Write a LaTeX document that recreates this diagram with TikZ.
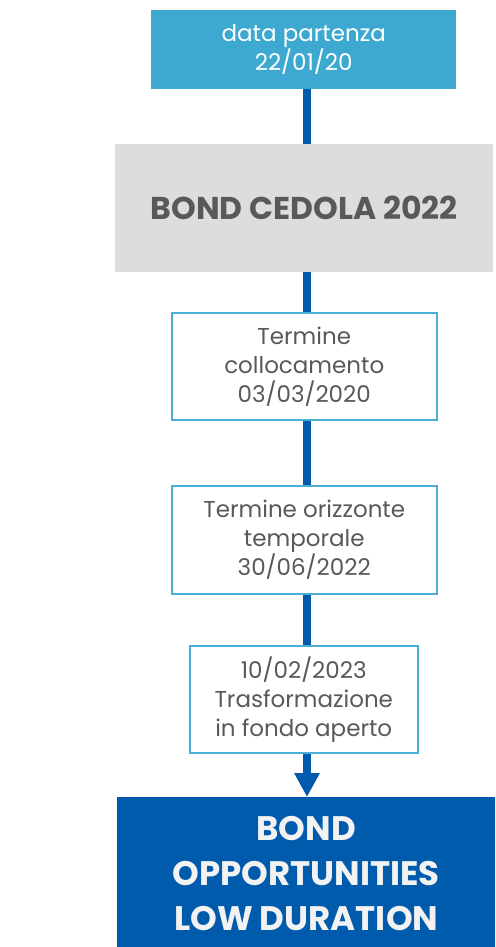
\documentclass[tikz,border=0pt]{standalone}
\usepackage{fontspec}
\setmainfont{Poppins}
\usetikzlibrary{arrows.meta}
\definecolor{topblue}{HTML}{3EA9D0}
\definecolor{framebl}{HTML}{4BAED5}
\definecolor{darkbl}{HTML}{005BAC}
\definecolor{lgray}{HTML}{DDDDDD}
\definecolor{tgray}{HTML}{595959}
\definecolor{wtxt}{HTML}{F2F2F2}
\tikzset{
  x=1pt,y=-1pt,
  boxbase/.style={inner sep=0pt, align=center, anchor=north west},
  datebox/.style={boxbase, draw=framebl, line width=1.5pt, fill=white, text=tgray, font=\fontsize{23}{29}\selectfont},
  link/.style={draw=darkbl, line width=8pt},
}
\begin{document}
\begin{tikzpicture}
\useasboundingbox (0,0) rectangle (495,947);
\node[boxbase, fill=topblue, minimum width=305pt, minimum height=79pt, text=white, font=\fontsize{23}{27}\selectfont] (start) at (151,10) {data partenza\\22/01/20};
\node[boxbase, fill=lgray, minimum width=378pt, minimum height=128pt, text=tgray, font=\fontsize{31.5}{34}\selectfont\bfseries] (cedola) at (115,144) {BOND CEDOLA 2022};
\node[datebox, minimum width=265pt, minimum height=107pt] (coll) at (171,312) {Termine\\collocamento\\03/03/2020};
\node[datebox, minimum width=265pt, minimum height=108pt] (oriz) at (171,485) {Termine orizzonte\\temporale\\30/06/2022};
\node[datebox, minimum width=228pt, minimum height=107pt] (trasf) at (189,645) {10/02/2023\\Trasformazione\\in fondo aperto};
\node[boxbase, fill=darkbl, minimum width=378pt, minimum height=152pt, text=wtxt, font=\fontsize{34}{45}\selectfont\bfseries] (bold) at (117,797) {BOND\\OPPORTUNITIES\\LOW DURATION};
\draw[link] (start.south -| 307,0) -- (cedola.north -| 307,0);
\draw[link] (cedola.south -| 307,0) -- (coll.north -| 307,0);
\draw[link] (coll.south -| 307,0) -- (oriz.north -| 307,0);
\draw[link] (oriz.south -| 307,0) -- (trasf.north -| 307,0);
\draw[link, -{Triangle[length=24pt,width=24pt]}] (trasf.south -| 307,0) -- (bold.north -| 307,0);
\end{tikzpicture}
\end{document}
